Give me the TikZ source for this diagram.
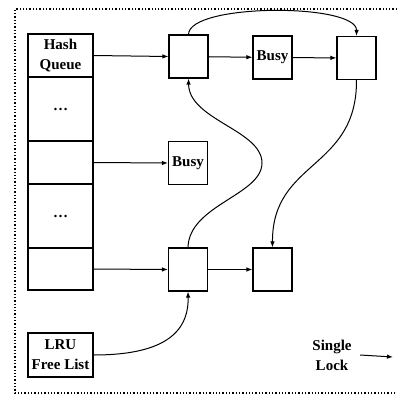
\documentclass[tikz,border=0pt]{standalone}
\usepackage{fontspec}
\setmainfont{Liberation Serif}
\usepackage{tikz}
\usetikzlibrary{arrows.meta,positioning}

\begin{document}
\begin{tikzpicture}[x=1pt, y=-1pt,
  cell/.style={draw, line width=1.1pt, minimum width=65pt, inner sep=0pt, align=center,
    font=\fontsize{15}{20}\selectfont\bfseries},
  box/.style={draw, line width=1.1pt, minimum width=39pt, minimum height=43pt, inner sep=0pt,
    font=\fontsize{15}{20}\selectfont\bfseries},
  arr/.style={-{Latex[length=6pt,width=4.5pt]}, line width=1pt},
  lab/.style={align=center, font=\fontsize{15}{20}\selectfont\bfseries}]
\useasboundingbox (0,0) rectangle (397,394);
\draw[dotted, line width=1.3pt] (397,9) -- (15,9) -- (15,393) -- (397,393);

% hash queue column
\node[cell, minimum height=43pt] (q1) at (60.5,55.5)  {Hash\\Queue};
\node[cell, minimum height=64pt] (q2) at (60.5,109)   {\dots};
\node[cell, minimum height=43pt] (q3) at (60.5,162.5) {};
\node[cell, minimum height=64pt] (q4) at (60.5,216)   {\dots};
\node[cell, minimum height=42pt] (q5) at (60.5,269)   {};
\node[cell, minimum height=44pt] (lru) at (60.5,355)  {LRU\\Free List};

% buffers
\node[box] (a)     at (188.5,56.5) {};
\node[box] (busy1) at (272.5,57.5) {Busy};
\node[box] (c)     at (356.5,58)   {};
\node[box] (busy2) at (188,163)    {Busy};
\node[box] (d)     at (188,269.5)  {};
\node[box] (e)     at (272.5,269.5) {};

\draw[arr] (q1.east) -- (a.west);
\draw[arr] (a) -- (busy1);
\draw[arr] (busy1) -- (c);
\draw[arr] (q3.east) -- (busy2.west);
\draw[arr] (q5.east) -- (d.west);
\draw[arr] (d) -- (e);

% free list
\draw[arr] (a.north) .. controls (189,3) and (357,3) .. (c.north);
\draw[arr] (d.north) .. controls (189,205) and (262,195) .. (262,163)
  .. controls (262,130) and (189,120) .. (a.south);
\draw[arr] (c.south) .. controls (357,170) and (272,160) .. (e.north);
\draw[arr] (lru.east) .. controls (160,355) and (189,335) .. (d.south);

% legend
\node[lab] (lock) at (332,355) {Single\\Lock};
\coordinate (lockend) at (393,357);
\draw[arr] ([xshift=5pt]lock.east) -- (lockend);
\end{tikzpicture}
\end{document}
